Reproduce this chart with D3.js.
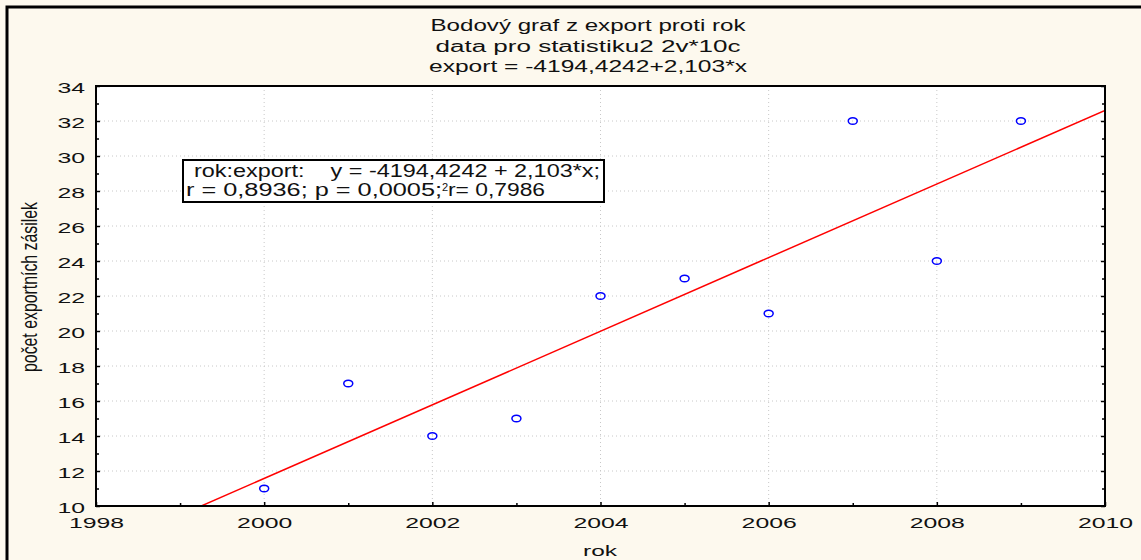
<!DOCTYPE html>
<html>
<head>
<meta charset="utf-8">
<script src="https://cdn.jsdelivr.net/npm/d3@7"></script>
<style>
  body { margin: 0; background: #fdf9ee; }
  svg { display: block; font-family: "Liberation Sans", Arial, sans-serif; }
  .tick text { fill: #111; }
  .keep-spaces { white-space: pre; }
</style>
</head>
<body>
<svg id="chart" width="1141" height="560"></svg>
<script>
// data
var years = [2000, 2001, 2002, 2003, 2004, 2005, 2006, 2007, 2008, 2009];
var exportCounts = [11, 17, 14, 15, 22, 23, 21, 32, 24, 32];
var xTickValues = [1998, 2000, 2002, 2004, 2006, 2008, 2010];
var yTickValues = [10, 12, 14, 16, 18, 20, 22, 24, 26, 28, 30, 32, 34];
var fitIntercept = -4194.4242;
var fitSlope = 2.103;
var titleLines = [
  'Bodový graf z export proti rok',
  'data pro statistiku2 2v*10c',
  'export = -4194,4242+2,103*x'
];
var legendLine1 = 'rok:export:    y = -4194,4242 + 2,103*x;';
var legendLine2 = ['r = 0,8936; p = 0,0005;', '2', 'r= 0,7986'];
var xTitle = 'rok';
var yTitle = 'počet exportních zásilek';

var svg = d3.select('#chart');
var plot = { left: 96, right: 1105, top: 86, bottom: 506 };
var stretch = 1.6; // tick labels are drawn wide

var x = d3.scaleLinear().domain([1998, 2010]).range([plot.left, plot.right]);
var y = d3.scaleLinear().domain([10, 34]).range([plot.bottom, plot.top]);

// page background + frame
svg.append('rect')
  .attr('width', 1141).attr('height', 560)
  .attr('fill', '#fdf9ee');
svg.append('rect')
  .attr('x', 7).attr('y', 7)
  .attr('width', 1300).attr('height', 700)
  .attr('fill', 'none').attr('stroke', '#000').attr('stroke-width', 3);

// title
svg.append('g').selectAll('text')
  .data(titleLines)
  .enter().append('text')
  .attr('x', 588)
  .attr('y', function(d, i){ return [31, 52, 72][i]; })
  .attr('text-anchor', 'middle')
  .attr('font-size', 16)
  .attr('fill', '#111')
  .attr('textLength', function(d, i){ return [315, 305, 318][i]; })
  .attr('lengthAdjust', 'spacingAndGlyphs')
  .text(function(d){ return d; });

// plot area
svg.append('rect')
  .attr('x', plot.left).attr('y', plot.top)
  .attr('width', plot.right - plot.left).attr('height', plot.bottom - plot.top)
  .attr('fill', '#fff');

svg.append('clipPath').attr('id', 'plot-clip')
  .append('rect')
  .attr('x', plot.left).attr('y', plot.top)
  .attr('width', plot.right - plot.left).attr('height', plot.bottom - plot.top);

// dotted grid
var grid = svg.append('g').attr('stroke', '#c8c8c8').attr('stroke-dasharray', '1,3');
grid.selectAll('.gx')
  .data(xTickValues.slice(1, -1))
  .enter().append('line')
  .attr('x1', function(d){ return x(d); }).attr('x2', function(d){ return x(d); })
  .attr('y1', plot.top).attr('y2', plot.bottom);
grid.selectAll('.gy')
  .data(yTickValues.slice(1, -1))
  .enter().append('line')
  .attr('y1', function(d){ return y(d); }).attr('y2', function(d){ return y(d); })
  .attr('x1', plot.left).attr('x2', plot.right);

// regression line
svg.append('line')
  .attr('clip-path', 'url(#plot-clip)')
  .attr('x1', x(1998)).attr('y1', y(fitIntercept + fitSlope * 1998))
  .attr('x2', x(2010)).attr('y2', y(fitIntercept + fitSlope * 2010))
  .attr('stroke', '#ff0000').attr('stroke-width', 1.5);

// points
svg.append('g').selectAll('ellipse')
  .data(years)
  .enter().append('ellipse')
  .attr('cx', function(d){ return x(d); })
  .attr('cy', function(d, i){ return y(exportCounts[i]); })
  .attr('rx', 4.5).attr('ry', 3.3)
  .attr('fill', 'none').attr('stroke', '#0000ff').attr('stroke-width', 1.5);

// axes
var xMinor = d3.range(1999, 2010, 2);
var yMinor = d3.range(11, 34, 2);

function cleanAxis(g){
  g.select('.domain').remove();
  g.selectAll('line').attr('stroke', '#000').attr('stroke-width', 1.5);
}

var bottomAxis = svg.append('g')
  .attr('transform', 'translate(0,' + plot.bottom + ')')
  .call(d3.axisBottom(x).tickValues(xTickValues).tickFormat(d3.format('d')).tickSize(-4).tickPadding(11))
  .call(cleanAxis);
bottomAxis.selectAll('text')
  .attr('font-size', 15.5)
  .attr('transform', 'scale(' + stretch + ',1)');

svg.append('g')
  .attr('transform', 'translate(0,' + plot.bottom + ')')
  .call(d3.axisBottom(x).tickValues(xMinor).tickFormat('').tickSize(-3))
  .call(cleanAxis);

var leftAxis = svg.append('g')
  .attr('transform', 'translate(' + plot.left + ',0)')
  .call(d3.axisLeft(y).tickValues(yTickValues).tickSize(-4).tickPadding(11 / stretch))
  .call(cleanAxis);
leftAxis.selectAll('text')
  .attr('font-size', 15.5)
  .attr('dy', '0.4em')
  .attr('transform', 'scale(' + stretch + ',1)');

svg.append('g')
  .attr('transform', 'translate(' + plot.left + ',0)')
  .call(d3.axisLeft(y).tickValues(yMinor).tickFormat('').tickSize(-3))
  .call(cleanAxis);

svg.append('g')
  .attr('transform', 'translate(' + plot.right + ',0)')
  .call(d3.axisRight(y).tickValues(yTickValues).tickFormat('').tickSize(-4))
  .call(cleanAxis);
svg.append('g')
  .attr('transform', 'translate(' + plot.right + ',0)')
  .call(d3.axisRight(y).tickValues(yMinor).tickFormat('').tickSize(-3))
  .call(cleanAxis);

// plot frame
svg.append('rect')
  .attr('x', plot.left).attr('y', plot.top)
  .attr('width', plot.right - plot.left).attr('height', plot.bottom - plot.top)
  .attr('fill', 'none').attr('stroke', '#000').attr('stroke-width', 2);

// axis titles
svg.append('text')
  .attr('x', 600).attr('y', 556)
  .attr('text-anchor', 'middle')
  .attr('font-size', 15.5).attr('fill', '#111')
  .attr('textLength', 34).attr('lengthAdjust', 'spacingAndGlyphs')
  .text(xTitle);

svg.append('text')
  .attr('transform', 'translate(37,287) rotate(-90) scale(1,1.3)')
  .attr('text-anchor', 'middle')
  .attr('font-size', 17).attr('fill', '#111')
  .attr('textLength', 170).attr('lengthAdjust', 'spacingAndGlyphs')
  .text(yTitle);

// legend box
var legend = svg.append('g');
legend.append('rect')
  .attr('x', 183).attr('y', 160)
  .attr('width', 421).attr('height', 42)
  .attr('fill', '#fff').attr('stroke', '#000').attr('stroke-width', 2);
legend.append('text')
  .attr('class', 'keep-spaces')
  .attr('x', 194).attr('y', 177)
  .attr('font-size', 18).attr('fill', '#111')
  .attr('textLength', 406).attr('lengthAdjust', 'spacingAndGlyphs')
  .text(legendLine1);
legend.append('text')
  .attr('x', 186).attr('y', 196)
  .attr('font-size', 18).attr('fill', '#111')
  .attr('textLength', 256).attr('lengthAdjust', 'spacingAndGlyphs')
  .text(legendLine2[0]);
legend.append('text')
  .attr('x', 442).attr('y', 191)
  .attr('font-size', 11).attr('fill', '#111')
  .text(legendLine2[1]);
legend.append('text')
  .attr('x', 448).attr('y', 196)
  .attr('font-size', 18).attr('fill', '#111')
  .attr('textLength', 97).attr('lengthAdjust', 'spacingAndGlyphs')
  .text(legendLine2[2]);
</script>
</body>
</html>
